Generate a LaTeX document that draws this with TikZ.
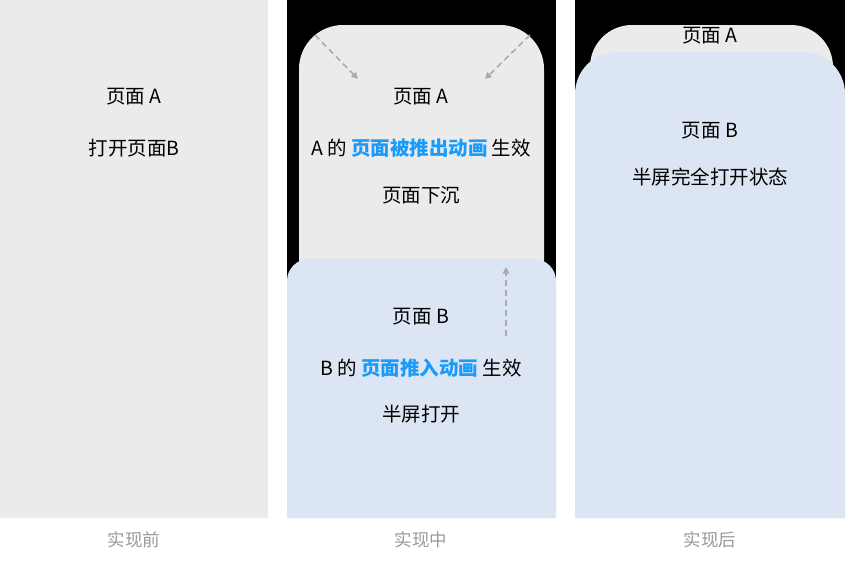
\documentclass[tikz,border=0pt]{standalone}
\usepackage{fontspec}
\setmainfont{Noto Sans CJK SC}
\usetikzlibrary{arrows.meta}
\definecolor{pgray}{HTML}{EBEBEB}
\definecolor{pblue}{HTML}{DCE5F3}
\definecolor{hblue}{HTML}{1A9BFA}
\definecolor{lgray}{HTML}{9A9A9A}
\definecolor{agray}{HTML}{ABABAB}
\tikzset{
  txt/.style={font=\fontsize{19.5}{21}\selectfont, text=black, inner sep=0pt},
  captxt/.style={font=\fontsize{17.5}{19}\selectfont, text=lgray, inner sep=0pt},
  darr/.style={draw=agray, line width=1.6pt, dash pattern=on 6pt off 4pt, -{Triangle[length=6.5pt,width=6.5pt]}}
}
\begin{document}
\begin{tikzpicture}[x=1pt,y=-1pt]
\useasboundingbox (0,0) rectangle (846,563);
\fill[white] (0,0) rectangle (846,563);
% panel 1
\fill[pgray] (0,0) rectangle (268,518);
\node[txt] (p1a) at (134,97) {页面 A};
\node[txt] (p1b) at (134,148) {打开页面B};
% panel 2
\fill[black] (287,0) rectangle (556,518);
\fill[pgray, rounded corners=44pt] (299,300) -- (299,25) -- (544,25) -- (544,300);
\fill[pgray] (299,120) rectangle (544,300);
\fill[pblue] (287,518) [rounded corners=22pt] -- (287,259) -- (556,259) [sharp corners] -- (556,518) -- cycle;
\node[txt] (p2a) at (421,97) {页面 A};
\node[txt] (p2a2) at (421,148) {A 的 \textcolor{hblue}{\bfseries 页面被推出动画} 生效};
\node[txt] (p2a3) at (421,195) {页面下沉};
\node[txt] (p2b) at (421,317) {页面 B};
\node[txt] (p2b2) at (421,368) {B 的 \textcolor{hblue}{\bfseries 页面推入动画} 生效};
\node[txt] (p2b3) at (421,414) {半屏打开};
\coordinate (a1s) at (315,35);
\coordinate (a1e) at (358,79);
\coordinate (a2s) at (530,35);
\coordinate (a2e) at (485,79);
\coordinate (a3s) at (506,336);
\coordinate (a3e) at (506,267);
\draw[darr] (a1s) -- (a1e);
\draw[darr] (a2s) -- (a2e);
\draw[darr] (a3s) -- (a3e);
% panel 3
\fill[black] (575,0) rectangle (845,518);
\fill[pgray, rounded corners=42pt] (590,150) -- (590,25) -- (833,25) -- (833,150);
\fill[pgray] (590,80) rectangle (833,150);
\fill[pblue] (575,518) [rounded corners=42pt] -- (575,52) -- (845,52) [sharp corners] -- (845,518) -- cycle;
\node[txt] (p3a) at (710,36) {页面 A};
\node[txt] (p3b) at (710,131) {页面 B};
\node[txt] (p3b2) at (710,177) {半屏完全打开状态};
% captions
\node[captxt] (c1) at (134,540) {实现前};
\node[captxt] (c2) at (421,540) {实现中};
\node[captxt] (c3) at (710,540) {实现后};
\end{tikzpicture}
\end{document}
